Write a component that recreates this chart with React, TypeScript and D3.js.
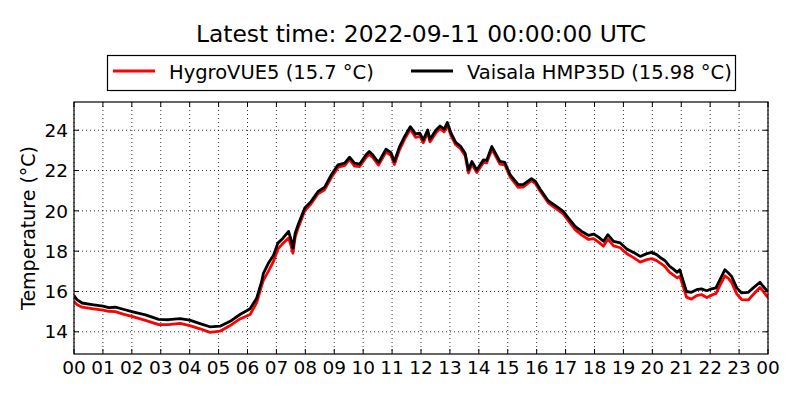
import React, { useRef, useEffect } from 'react';
import * as d3 from 'd3';

// Hours since 00 UTC
const hours = [
  0.0, 0.1, 0.28, 0.62, 1.0, 1.2, 1.43, 1.7, 2.0, 2.47, 2.93, 3.27, 3.67, 4.0, 4.36, 4.7,
  5.05, 5.4, 5.74, 6.09, 6.32, 6.49, 6.55, 6.72, 6.9, 7.05, 7.2, 7.42, 7.5, 7.57, 7.65, 7.75,
  7.98, 8.2, 8.44, 8.67, 8.9, 9.13, 9.36, 9.53, 9.7, 9.88, 10.1, 10.21, 10.33, 10.53, 10.79,
  10.96, 11.08, 11.25, 11.43, 11.63, 11.81, 11.96, 12.08, 12.23, 12.31, 12.52, 12.66, 12.8,
  12.91, 13.04, 13.2, 13.37, 13.53, 13.64, 13.76, 13.93, 14.16, 14.27, 14.45, 14.56, 14.73,
  14.9, 15.08, 15.36, 15.53, 15.82, 15.96, 16.11, 16.4, 16.66, 16.92, 17.1, 17.33, 17.56,
  17.8, 17.97, 18.14, 18.31, 18.46, 18.66, 18.89, 19.12, 19.35, 19.58, 19.81, 19.98, 20.15,
  20.3, 20.43, 20.6, 20.72, 20.86, 20.95, 21.0, 21.18, 21.35, 21.53, 21.7, 21.88, 22.05,
  22.2, 22.34, 22.51, 22.63, 22.74, 22.92, 23.09, 23.32, 23.49, 23.72, 23.83, 24.0,
];

const vaisala = [
  15.8, 15.6, 15.43, 15.35, 15.27, 15.2, 15.22, 15.12, 15.0, 14.84, 14.62, 14.6, 14.66, 14.58,
  14.41, 14.25, 14.28, 14.52, 14.86, 15.14, 15.68, 16.5, 16.9, 17.4, 17.8, 18.4, 18.6, 18.98,
  18.6, 18.15, 18.9, 19.31, 20.14, 20.47, 20.96, 21.18, 21.79, 22.28, 22.37, 22.66, 22.37,
  22.32, 22.78, 22.94, 22.78, 22.4, 23.06, 22.89, 22.45, 23.16, 23.68, 24.18, 23.82, 23.85,
  23.52, 24.01, 23.55, 24.01, 24.21, 24.05, 24.38, 23.85, 23.4, 23.2, 22.85, 22.03, 22.45,
  22.03, 22.53, 22.5, 23.19, 22.9, 22.45, 22.4, 21.8, 21.3, 21.3, 21.6, 21.46, 21.1, 20.5,
  20.25, 19.97, 19.64, 19.23, 18.98, 18.78, 18.85, 18.7, 18.49, 18.82, 18.49, 18.41, 18.11,
  17.94, 17.74, 17.88, 17.94, 17.83, 17.66, 17.54, 17.25, 17.12, 16.95, 17.08, 16.84, 16.0,
  15.96, 16.09, 16.13, 16.04, 16.13, 16.18, 16.59, 17.08, 16.92, 16.75, 16.18, 15.93, 15.96,
  16.18, 16.46, 16.26, 15.98,
];

const hygrovue = [
  15.5, 15.35, 15.22, 15.15, 15.08, 15.02, 15.0, 14.88, 14.77, 14.57, 14.36, 14.36, 14.42,
  14.31, 14.15, 13.97, 14.03, 14.31, 14.64, 14.86, 15.45, 16.3, 16.55, 17.0, 17.5, 18.1,
  18.35, 18.65, 18.3, 17.9, 18.7, 19.15, 20.0, 20.35, 20.85, 21.05, 21.65, 22.15, 22.25,
  22.55, 22.22, 22.2, 22.65, 22.8, 22.65, 22.27, 22.92, 22.75, 22.3, 23.0, 23.55, 24.05,
  23.65, 23.7, 23.38, 23.88, 23.42, 23.88, 24.08, 23.92, 24.25, 23.72, 23.28, 23.08, 22.72,
  21.88, 22.32, 21.9, 22.4, 22.38, 23.05, 22.78, 22.32, 22.28, 21.68, 21.17, 21.18, 21.5,
  21.35, 21.0, 20.4, 20.12, 19.85, 19.5, 19.07, 18.8, 18.58, 18.62, 18.45, 18.25, 18.6,
  18.26, 18.17, 17.87, 17.68, 17.46, 17.58, 17.63, 17.53, 17.38, 17.25, 16.95, 16.82, 16.68,
  16.75, 16.55, 15.72, 15.62, 15.8, 15.85, 15.7, 15.82, 15.9, 16.3, 16.78, 16.65, 16.45,
  15.88, 15.6, 15.58, 15.85, 16.2, 16.02, 15.7,
];

const yTicks = [14, 16, 18, 20, 22, 24];
const xTicks = d3.range(0, 25);
const xTickLabels = xTicks.map(h => String(h % 24).padStart(2, '0'));

const seriesNames = ['HygroVUE5 (15.7 °C)', 'Vaisala HMP35D (15.98 °C)'];
const seriesColors = ['#ff0000', '#000000'];
const title = 'Latest time: 2022-09-11 00:00:00 UTC';

const width = 800;
const height = 400;
const margin = { top: 102, right: 32, bottom: 46, left: 74 };
const font = '"DejaVu Sans", sans-serif';

const App: React.FC = () => {
  const svgRef = useRef<SVGSVGElement>(null);

  useEffect(() => {
    const svg = d3.select(svgRef.current);
    svg.selectAll('*').remove();

    const innerWidth = width - margin.left - margin.right;
    const innerHeight = height - margin.top - margin.bottom;

    svg.append('rect').attr('width', width).attr('height', height).attr('fill', '#ffffff');

    svg
      .append('clipPath')
      .attr('id', 'plot-clip')
      .append('rect')
      .attr('width', innerWidth)
      .attr('height', innerHeight);

    const g = svg.append('g').attr('transform', `translate(${margin.left}, ${margin.top})`);

    const xScale = d3.scaleLinear().domain([0, 24]).range([0, innerWidth]);
    const yScale = d3.scaleLinear().domain([12.9, 25.4]).range([innerHeight, 0]);

    // Dotted grid
    g.selectAll('.grid-x')
      .data(xTicks)
      .enter()
      .append('line')
      .attr('x1', d => xScale(d))
      .attr('x2', d => xScale(d))
      .attr('y1', 0)
      .attr('y2', innerHeight)
      .attr('stroke', '#000')
      .attr('stroke-width', 0.8)
      .attr('stroke-dasharray', '1,3');

    g.selectAll('.grid-y')
      .data(yTicks)
      .enter()
      .append('line')
      .attr('x1', 0)
      .attr('x2', innerWidth)
      .attr('y1', d => yScale(d))
      .attr('y2', d => yScale(d))
      .attr('stroke', '#000')
      .attr('stroke-width', 0.8)
      .attr('stroke-dasharray', '1,3');

    // Lines
    const series = [hygrovue, vaisala];
    const line = d3
      .line<number>()
      .x((_, i) => xScale(hours[i]))
      .y(d => yScale(d));

    series.forEach((values, k) => {
      g.append('path')
        .datum(values)
        .attr('clip-path', 'url(#plot-clip)')
        .attr('fill', 'none')
        .attr('stroke', seriesColors[k])
        .attr('stroke-width', 2.8)
        .attr('stroke-linejoin', 'round')
        .attr('d', line);
    });

    // Frame
    g.append('rect')
      .attr('width', innerWidth)
      .attr('height', innerHeight)
      .attr('fill', 'none')
      .attr('stroke', '#000')
      .attr('stroke-width', 1.2);

    // Inward ticks on all four sides
    const tickLen = 5;
    xTicks.forEach(t => {
      const x = xScale(t);
      g.append('line').attr('x1', x).attr('x2', x).attr('y1', innerHeight).attr('y2', innerHeight - tickLen).attr('stroke', '#000');
      g.append('line').attr('x1', x).attr('x2', x).attr('y1', 0).attr('y2', tickLen).attr('stroke', '#000');
    });
    yTicks.forEach(t => {
      const y = yScale(t);
      g.append('line').attr('x1', 0).attr('x2', tickLen).attr('y1', y).attr('y2', y).attr('stroke', '#000');
      g.append('line').attr('x1', innerWidth).attr('x2', innerWidth - tickLen).attr('y1', y).attr('y2', y).attr('stroke', '#000');
    });

    // Tick labels
    g.selectAll('.xlabel')
      .data(xTicks)
      .enter()
      .append('text')
      .attr('x', d => xScale(d))
      .attr('y', innerHeight + 20)
      .attr('text-anchor', 'middle')
      .style('font-family', font)
      .style('font-size', '18.5px')
      .text((_, i) => xTickLabels[i]);

    g.selectAll('.ylabel')
      .data(yTicks)
      .enter()
      .append('text')
      .attr('x', -6)
      .attr('y', d => yScale(d))
      .attr('dy', '0.36em')
      .attr('text-anchor', 'end')
      .style('font-family', font)
      .style('font-size', '18.5px')
      .text(d => String(d));

    // Axis label
    g.append('text')
      .attr('transform', 'rotate(-90)')
      .attr('x', -innerHeight / 2)
      .attr('y', -39)
      .attr('text-anchor', 'middle')
      .style('font-family', font)
      .style('font-size', '19px')
      .text('Temperature (°C)');

    // Title
    svg.append('text')
      .attr('x', margin.left + innerWidth / 2)
      .attr('y', 42)
      .attr('text-anchor', 'middle')
      .style('font-family', font)
      .style('font-size', '23.4px')
      .text(title);

    // Legend
    const legend = svg.append('g');
    legend
      .append('rect')
      .attr('x', 107.5)
      .attr('y', 55.5)
      .attr('width', 628)
      .attr('height', 35)
      .attr('fill', '#fff')
      .attr('stroke', '#000')
      .attr('stroke-width', 1.2);

    const handleX = [113, 411];
    seriesNames.forEach((name, k) => {
      legend
        .append('line')
        .attr('x1', handleX[k])
        .attr('x2', handleX[k] + 42)
        .attr('y1', 71)
        .attr('y2', 71)
        .attr('stroke', seriesColors[k])
        .attr('stroke-width', 2.8);
      legend
        .append('text')
        .attr('x', handleX[k] + 56)
        .attr('y', 78.5)
        .style('font-family', font)
        .style('font-size', '19.5px')
        .text(name);
    });
  }, []);

  return (
    <div style={{ position: 'absolute', left: 0, top: 0, width, height, background: '#fff' }}>
      <svg ref={svgRef} width={width} height={height} viewBox={`0 0 ${width} ${height}`} />
    </div>
  );
};

export default App;
